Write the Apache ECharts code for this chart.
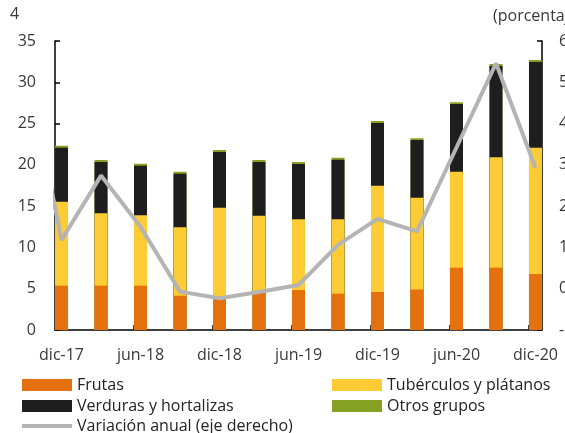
<!DOCTYPE html>
<html>
<head>
<meta charset="utf-8">
<script src="https://cdn.jsdelivr.net/npm/echarts@6/dist/echarts.min.js"></script>
<style>
  html, body { margin: 0; padding: 0; background: #fff; }
  #chart { width: 565px; height: 433px; }
</style>
</head>
<body>
<div id="chart"></div>
<script>
// Quarterly categories (dic-17 ... dic-20)
var categories = ['dic-17','mar-18','jun-18','sep-18','dic-18','mar-19','jun-19','sep-19','dic-19','mar-20','jun-20','sep-20','dic-20'];
// Left axis: stacked components
var frutas      = [5.37, 5.37, 5.37, 4.15, 3.84, 4.52, 4.84, 4.40, 4.60, 4.90, 7.55, 7.55, 6.78];
var tuberculos  = [10.17, 8.76, 8.52, 8.29, 10.97, 9.32, 8.57, 9.01, 12.88, 11.12, 11.62, 13.37, 15.30];
var verduras    = [6.54, 6.22, 6.01, 6.49, 6.75, 6.51, 6.69, 7.22, 7.59, 6.99, 8.20, 11.05, 10.38];
var otros       = [0.24, 0.24, 0.24, 0.24, 0.24, 0.24, 0.25, 0.22, 0.24, 0.21, 0.21, 0.24, 0.24];
// Right axis: annual variation (first value is the clipped point before dic-17)
var variacionPrev = 6.0;
var variacion   = [1.18, 2.74, 1.50, -0.07, -0.23, -0.08, 0.09, 1.06, 1.69, 1.39, 3.42, 5.46, 2.93];
var leftTicks = [0, 35, 5];
var rightTicks = [-1, 6, 1];

// Cumulative tops for the stacked look (drawn back-to-front, overlapping)
function cum(arrs) {
  return categories.map(function (_, i) {
    var s = 0; arrs.forEach(function (a) { s += a[i]; }); return [i, +s.toFixed(3)];
  });
}
var lineData = [[-1, variacionPrev]].concat(variacion.map(function (v, i) { return [i, v]; }));
var labelIdx = [];
for (var i = 0; i < categories.length; i += 2) labelIdx.push(i);
var tickIdx = [];
for (var j = 2; j < categories.length; j += 2) tickIdx.push(j - 0.18);

var FONT = 'Open Sans';
var FS = 16;
var TXT = '#383838';
var AX = { color: '#000', width: 1.5 };
var GRAY = '#B4B4B4';

function legendRow(left, top, name, icon, h, color) {
  var d = { name: name, icon: icon };
  if (color) d.itemStyle = { color: color };
  return {
    left: left, top: top, orient: 'horizontal', padding: 0,
    itemWidth: 50, itemHeight: h || 12, itemGap: 0,
    textStyle: { fontSize: FS, color: '#222', fontFamily: FONT },
    data: [d]
  };
}

var chart = echarts.init(document.getElementById('chart'));
chart.setOption({
  animation: false,
  backgroundColor: '#ffffff',
  textStyle: { fontFamily: FONT },
  grid: { left: 55, right: 23, top: 41, bottom: 103, containLabel: false, outerBoundsMode: 'none' },
  graphic: [
    { type: 'text', left: 10, top: 6, style: { text: '4', fontSize: FS, fontFamily: FONT, fill: TXT } },
    { type: 'text', left: 493, top: 8, style: { text: '(porcentaje)', fontSize: FS, fontFamily: FONT, fill: TXT } }
  ],
  xAxis: {
    type: 'value',
    min: -0.165,
    max: 12.165,
    splitLine: { show: false },
    axisLine: { show: true, onZero: false, lineStyle: AX },
    axisTick: { show: true, inside: true, length: 5, customValues: tickIdx, lineStyle: AX },
    axisLabel: {
      customValues: labelIdx,
      margin: 17,
      fontSize: FS,
      color: TXT,
      fontFamily: FONT,
      formatter: function (v) { return categories[Math.round(v)] || ''; }
    }
  },
  yAxis: [
    {
      type: 'value', min: leftTicks[0], max: leftTicks[1], interval: leftTicks[2],
      position: 'left',
      splitLine: { show: false },
      axisLine: { show: true, onZero: false, lineStyle: AX },
      axisTick: { show: true, inside: true, length: 5, lineStyle: AX },
      axisLabel: { margin: 19, fontSize: FS, color: TXT, fontFamily: FONT }
    },
    {
      type: 'value', min: rightTicks[0], max: rightTicks[1], interval: rightTicks[2],
      position: 'right',
      splitLine: { show: false },
      axisLine: { show: true, onZero: false, lineStyle: AX },
      axisTick: { show: true, inside: true, length: 5, lineStyle: AX },
      axisLabel: { margin: 17, fontSize: FS, color: TXT, fontFamily: FONT }
    }
  ],
  legend: [
    legendRow(22, 377, 'Frutas', 'rect'),
    legendRow(22, 398, 'Verduras y hortalizas', 'rect'),
    legendRow(22, 418, 'Variación anual (eje derecho)', 'rect', 4, GRAY),
    legendRow(332, 377, 'Tubérculos y plátanos', 'rect'),
    legendRow(332, 398, 'Otros grupos', 'rect')
  ],
  series: [
    { name: 'Otros grupos', type: 'bar', barWidth: 13, barGap: '-100%', itemStyle: { color: '#86A024' },
      data: cum([frutas, tuberculos, verduras, otros]) },
    { name: 'Verduras y hortalizas', type: 'bar', barWidth: 13, barGap: '-100%', itemStyle: { color: '#1E1E1E' },
      data: cum([frutas, tuberculos, verduras]) },
    { name: 'Tubérculos y plátanos', type: 'bar', barWidth: 13, barGap: '-100%', itemStyle: { color: '#FDCC35' },
      data: cum([frutas, tuberculos]) },
    { name: 'Frutas', type: 'bar', barWidth: 13, barGap: '-100%', itemStyle: { color: '#E4700E' },
      data: cum([frutas]) },
    {
      name: 'Variación anual (eje derecho)', type: 'line', yAxisIndex: 1, symbol: 'none',
      clip: true, z: 5,
      lineStyle: { color: GRAY, width: 4 }, itemStyle: { color: GRAY },
      data: lineData
    }
  ]
});
</script>
</body>
</html>
